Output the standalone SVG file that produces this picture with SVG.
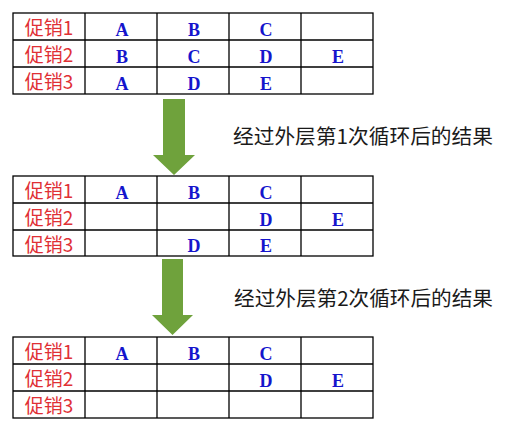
<svg xmlns="http://www.w3.org/2000/svg" width="509" height="431" viewBox="0 0 509 431">
<style>
.grid{fill:none;stroke:#000;stroke-width:1.3}
.lbl{font-family:"Noto Sans CJK SC","Liberation Sans",sans-serif;font-size:19px;fill:#E03035;text-anchor:middle}
.v{font-family:"Liberation Serif",serif;font-weight:bold;font-size:18px;fill:#1515CC;text-anchor:middle}
.cap{font-family:"Noto Sans CJK SC","Liberation Sans",sans-serif;font-size:20px;fill:#1a1a1a}
.arr{fill:#6FA23C}
</style>
<rect width="509" height="431" fill="#fff"/>
<g id="table1">
<rect class="grid" x="13" y="13" width="360" height="81"/>
<path class="grid" d="M13 40H373M13 67H373M85 13V94M157 13V94M229 13V94M301 13V94"/>
<text class="lbl" x="49" y="35">促销1</text>
<text class="lbl" x="49" y="62">促销2</text>
<text class="lbl" x="49" y="89">促销3</text>
<text class="v" x="122" y="36">A</text><text class="v" x="194" y="36">B</text><text class="v" x="266" y="36">C</text>
<text class="v" x="122" y="63">B</text><text class="v" x="194" y="63">C</text><text class="v" x="266" y="63">D</text><text class="v" x="338" y="63">E</text>
<text class="v" x="122" y="90">A</text><text class="v" x="194" y="90">D</text><text class="v" x="266" y="90">E</text>
</g>
<g id="table2">
<rect class="grid" x="13" y="176" width="360" height="80"/>
<path class="grid" d="M13 203H373M13 230H373M85 176V256M157 176V256M229 176V256M301 176V256"/>
<text class="lbl" x="49" y="198">促销1</text>
<text class="lbl" x="49" y="225">促销2</text>
<text class="lbl" x="49" y="252">促销3</text>
<text class="v" x="122" y="199">A</text><text class="v" x="194" y="199">B</text><text class="v" x="266" y="199">C</text>
<text class="v" x="266" y="226">D</text><text class="v" x="338" y="226">E</text>
<text class="v" x="194" y="252">D</text><text class="v" x="266" y="252">E</text>
</g>
<g id="table3">
<rect class="grid" x="13" y="337" width="360" height="81"/>
<path class="grid" d="M13 364H373M13 391H373M85 337V418M157 337V418M229 337V418M301 337V418"/>
<text class="lbl" x="49" y="359">促销1</text>
<text class="lbl" x="49" y="386">促销2</text>
<text class="lbl" x="49" y="413">促销3</text>
<text class="v" x="122" y="360">A</text><text class="v" x="194" y="360">B</text><text class="v" x="266" y="360">C</text>
<text class="v" x="266" y="387">D</text><text class="v" x="338" y="387">E</text>
</g>
<g id="connectors">
<polygon class="arr" points="163,99 185,99 185,155 195,155 174,175 153,155 163,155"/>
<polygon class="arr" points="162,259 183,259 183,315 193,315 172.5,335 152,315 162,315"/>
</g>
<g id="captions">
<text class="cap" x="233" y="144" textLength="260" lengthAdjust="spacingAndGlyphs">经过外层第1次循环后的结果</text>
<text class="cap" x="234" y="306" textLength="259" lengthAdjust="spacingAndGlyphs">经过外层第2次循环后的结果</text>
</g>
</svg>
